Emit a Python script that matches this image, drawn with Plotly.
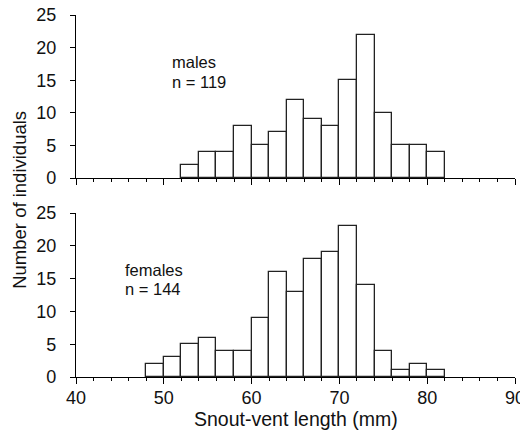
import plotly.graph_objects as go
from plotly.subplots import make_subplots

bin_starts_m = [52, 54, 56, 58, 60, 62, 64, 66, 68, 70, 72, 74, 76, 78, 80]
counts_m = [2, 4, 4, 8, 5, 7, 12, 9, 8, 15, 22, 10, 5, 5, 4]
bin_starts_f = [48, 50, 52, 54, 56, 58, 60, 62, 64, 66, 68, 70, 72, 74, 76, 78, 80]
counts_f = [2, 3, 5, 6, 4, 4, 9, 16, 13, 18, 19, 23, 14, 4, 1, 2, 1]
bin_width = 2
label_m = ["males", "n = 119"]
label_f = ["females", "n = 144"]
x_title = "Snout-vent length (mm)"
y_title = "Number of individuals"

FONT = "Liberation Sans, Arial, sans-serif"

fig = make_subplots(rows=2, cols=1, shared_xaxes=False, vertical_spacing=0.0)

for row, (starts, counts) in enumerate([(bin_starts_m, counts_m), (bin_starts_f, counts_f)], start=1):
    fig.add_trace(go.Bar(
        x=[s + bin_width / 2 for s in starts], y=counts, width=bin_width,
        marker=dict(color="white", line=dict(color="#222222", width=1.3)),
        showlegend=False, hoverinfo="x+y"), row=row, col=1)

common_x = dict(range=[40, 90], showgrid=False, zeroline=False, showline=True,
                linecolor="black", linewidth=1.3, ticks="outside", ticklen=6,
                tickwidth=1.2, tickcolor="black", dtick=10, tick0=40,
                minor=dict(dtick=2, tick0=40, ticks="outside", ticklen=3,
                           tickcolor="black", tickwidth=1),
                tickfont=dict(family=FONT, size=18, color="#111111"),
                ticklabelstandoff=-2, ticklabeloverflow="allow", automargin=False)
common_y = dict(range=[0, 25], showgrid=False, zeroline=False, showline=True,
                linecolor="black", linewidth=1.3, ticks="outside", ticklen=5,
                tickwidth=1.2, tickcolor="black", dtick=5,
                tickfont=dict(family=FONT, size=18, color="#111111"),
                ticklabelstandoff=10, automargin=False)

fig.update_layout(
    xaxis=dict(common_x, showticklabels=False, domain=[0, 1]),
    xaxis2=dict(common_x, domain=[0, 1]),
    yaxis=dict(common_y, domain=[0.5497, 1.0]),
    yaxis2=dict(common_y, domain=[0.0, 0.453]),
    width=520, height=438,
    margin=dict(l=76, r=5, t=15, b=61, autoexpand=False),
    plot_bgcolor="white", paper_bgcolor="white",
    bargap=0,
    font=dict(family=FONT, color="#111111"),
)

ann_font = dict(family=FONT, size=16.5, color="#111111")
for (txt, yv) in zip(label_m, [17.72, 14.73]):
    fig.add_annotation(x=50.7, y=yv, xref="x", yref="y", text=txt, showarrow=False,
                       xanchor="left", yanchor="middle", align="left", font=ann_font)
for (txt, yv) in zip(label_f, [16.36, 13.40]):
    fig.add_annotation(x=45.4, y=yv, xref="x2", yref="y2", text=txt, showarrow=False,
                       xanchor="left", yanchor="middle", align="left", font=ann_font)
fig.add_annotation(x=-0.128, y=0.489, xref="paper", yref="paper", text=y_title,
                   showarrow=False, textangle=-90, xanchor="center", yanchor="middle",
                   font=dict(family=FONT, size=18.5, color="#111111"))
fig.add_annotation(x=0.5, y=-0.116, xref="paper", yref="paper", text=x_title,
                   showarrow=False, xanchor="center", yanchor="middle",
                   font=dict(family=FONT, size=19.5, color="#111111"))

fig.write_html("out.html", config={"displayModeBar": False},
               post_script="document.body.style.margin='0';")
